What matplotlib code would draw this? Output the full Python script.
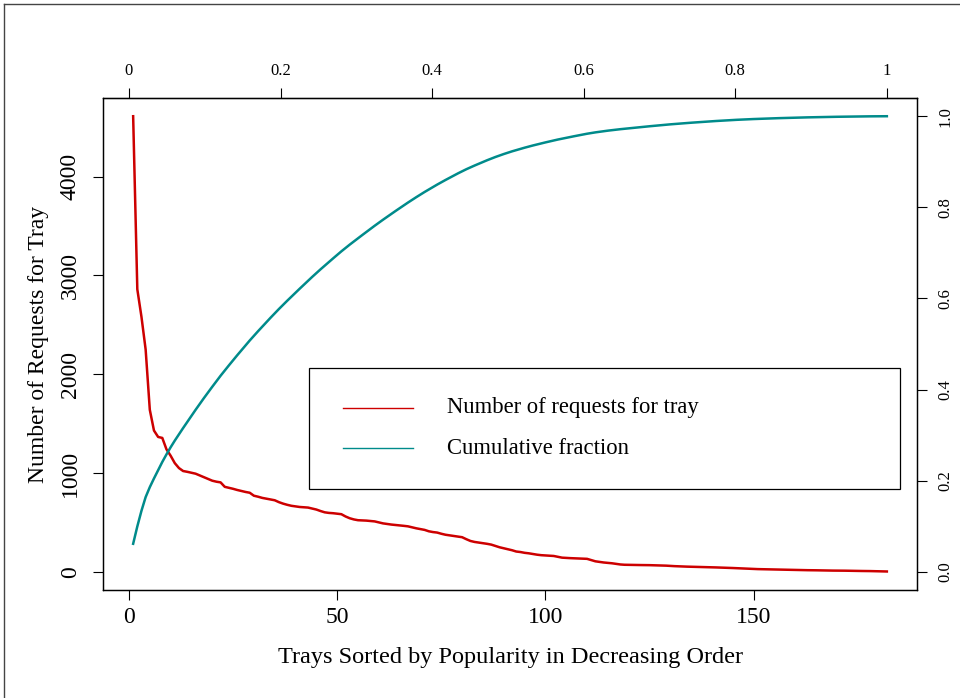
import numpy as np
import matplotlib.pyplot as plt
from matplotlib.lines import Line2D
from matplotlib.patches import Rectangle

# requests per tray, trays sorted by popularity (rank 1..182)
requests = [
    4612, 2860, 2580, 2250, 1640, 1430, 1365, 1355, 1240, 1175,
    1100, 1050, 1020, 1012, 1002, 993, 975, 958, 940, 922,
    912, 905, 860, 850, 840, 828, 818, 808, 800, 770,
    760, 748, 740, 732, 724, 705, 690, 678, 668, 662,
    656, 653, 650, 640, 630, 615, 602, 596, 593, 588,
    583, 560, 542, 530, 522, 520, 518, 514, 510, 500,
    490, 484, 478, 474, 470, 465, 460, 450, 440, 432,
    424, 410, 402, 397, 385, 375, 369, 364, 358, 350,
    330, 312, 302, 296, 290, 283, 275, 262, 248, 238,
    228, 218, 205, 200, 192, 187, 180, 173, 168, 165,
    162, 160, 152, 143, 140, 138, 136, 134, 133, 131,
    118, 106, 100, 94, 90, 86, 80, 74, 71, 70,
    70, 69, 68, 68, 67, 66, 65, 64, 62, 59,
    57, 55, 53, 52, 51, 50, 50, 48, 46, 45,
    44, 42, 41, 40, 38, 36, 34, 32, 30, 28,
    27, 26, 25, 24, 23, 22, 21, 21, 20, 19,
    18, 17, 16, 16, 15, 14, 13, 13, 12, 12,
    11, 11, 10, 10, 9, 8, 8, 7, 6, 5,
    4, 3,
]
left_ticks = [0, 1000, 2000, 3000, 4000]
right_ticks = [0.0, 0.2, 0.4, 0.6, 0.8, 1.0]
right_labels = ["0.0", "0.2", "0.4", "0.6", "0.8", "1.0"]
bottom_ticks = [0, 50, 100, 150]
top_ticks = [0, 0.2, 0.4, 0.6, 0.8, 1]
top_labels = ["0", "0.2", "0.4", "0.6", "0.8", "1"]

rank = np.arange(1, len(requests) + 1)
req = np.array(requests, dtype=float)
cumfrac = np.cumsum(req) / req.sum()
n = len(requests)

RED = "#CD0000"
TEAL = "#008B8B"
plt.rcParams["font.family"] = ["Liberation Serif", "DejaVu Serif"]

W, H = 960, 698
fig = plt.figure(figsize=(W / 100, H / 100), dpi=100)
ax = fig.add_axes([103 / W, 1 - 590 / H, (917 - 103) / W, (590 - 98) / H])


def padded(lo, hi):
    d = (hi - lo) * 0.04
    return lo - d, hi + d


ax.plot(rank, req, color=RED, lw=1.8)
ax.set_xlim(*padded(1, n))
ax.set_ylim(*padded(0, req.max()))
ax.set_xticks(bottom_ticks)
ax.set_yticks(left_ticks)
ax.set_yticklabels([str(t) for t in left_ticks], rotation=90, va="center")
ax.tick_params(axis="both", direction="out", length=7, width=0.8, labelsize=17)
ax.tick_params(axis="x", pad=5)
ax.tick_params(axis="y", pad=9)
ax.set_xlabel("Trays Sorted by Popularity in Decreasing Order", fontsize=17.5, labelpad=14)
ax.set_ylabel("Number of Requests for Tray", fontsize=17, labelpad=8)

ax2 = ax.twinx()
ax2.plot(rank, cumfrac, color=TEAL, lw=1.8)
ax2.set_ylim(*padded(0, 1))
ax2.set_yticks(right_ticks)
ax2.set_yticklabels(right_labels, rotation=90, va="center")
ax2.tick_params(axis="y", direction="out", length=7, width=0.8, labelsize=12, pad=8)

top = ax.secondary_xaxis("top", functions=(lambda x: x / n, lambda f: f * n))
top.set_xticks(top_ticks)
top.set_xticklabels(top_labels)
top.tick_params(direction="out", length=7, width=0.8, labelsize=12, pad=7)

for a in (ax, ax2):
    for s in a.spines.values():
        s.set_linewidth(0.9)

# legend box drawn in axes fraction
lx0, lx1 = (309 - 103) / 814, (900 - 103) / 814
ly0, ly1 = (590 - 489) / 492, (590 - 368) / 492
ax.add_patch(Rectangle((lx0, ly0), lx1 - lx0, ly1 - ly0, transform=ax.transAxes,
                       fill=False, edgecolor="black", lw=0.9, zorder=5))
entries = [("Number of requests for tray", RED, 408), ("Cumulative fraction", TEAL, 448)]
for text, col, yp in entries:
    yf = (590 - yp) / 492
    ax.add_line(Line2D([(343 - 103) / 814, (413 - 103) / 814], [yf, yf],
                       transform=ax.transAxes, color=col, lw=1.0, zorder=6))
    ax.text((447 - 103) / 814, yf, text, transform=ax.transAxes,
            fontsize=16.3, va="center", ha="left", zorder=6)

# outer frame (left and top edges)
fig.add_artist(Line2D([4 / W, 4 / W], [0, 1 - 4 / H], color="#444444", lw=1.0))
fig.add_artist(Line2D([4 / W, 1], [1 - 4 / H, 1 - 4 / H], color="#444444", lw=1.0))

fig.savefig("out.png", dpi=100)
